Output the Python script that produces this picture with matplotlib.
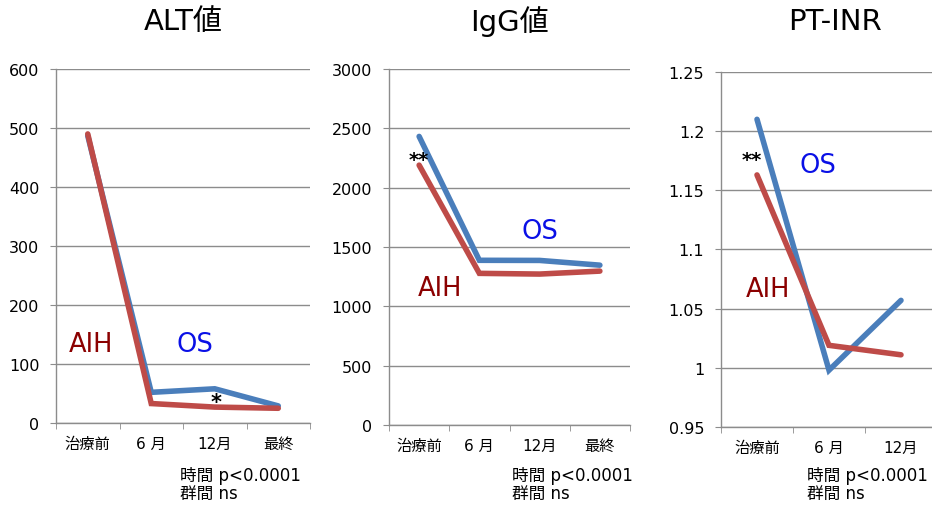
import matplotlib
matplotlib.use("Agg")
import matplotlib.pyplot as plt

plt.rcParams['font.family'] = ['DejaVu Sans', 'Noto Sans CJK JP']

# data
cats4 = ['治療前', '6 月', '12月', '最終']
cats3 = ['治療前', '6 月', '12月']

alt_aih = [490, 33, 27, 25]
alt_os = [487, 52, 58, 29]

igg_aih = [2190, 1278, 1272, 1297]
igg_os = [2432, 1388, 1387, 1347]

inr_aih = [1.163, 1.019, 1.011]
inr_os = [1.210, 0.998, 1.057]

blue = '#4a7ebb'
red = '#be4b48'
grid_c = '#8c8c8c'

fig = plt.figure(figsize=(9.32, 5.1), dpi=100)

def setup(ax, cats, ylim, yticks, ylabels, title, tx=0.5, ty=1.13):
    ax.set_xlim(-0.5, len(cats) - 0.5)
    ax.set_ylim(*ylim)
    ax.set_yticks(yticks)
    ax.set_yticklabels(ylabels, fontsize=11.5)
    ax.set_xticks(range(len(cats)))
    ax.set_xticklabels(cats, fontsize=11)
    ax.set_xticks([i - 0.5 for i in range(len(cats) + 1)], minor=True)
    ax.tick_params(axis='x', which='major', length=0, pad=9)
    ax.tick_params(axis='x', which='minor', length=4, color=grid_c, direction='out')
    ax.tick_params(axis='y', length=4, color=grid_c, direction='out', pad=8)
    ax.grid(axis='y', color=grid_c, linewidth=1)
    ax.set_axisbelow(True)
    for s in ['top', 'right']:
        ax.spines[s].set_visible(False)
    for s in ['left', 'bottom']:
        ax.spines[s].set_color(grid_c)
        ax.spines[s].set_linewidth(1)
    ax.text(tx, ty, title, transform=ax.transAxes, fontsize=21,
            ha='center', va='center')

def pvals(x):
    fig.text(x, 1 - 467/510, '時間 p<0.0001\n群間 ns', fontsize=12, va='top',
             ha='left', linespacing=1.0)

# ALT
ax1 = fig.add_axes([56/932, 0.1686, 254/932, 0.6941])
setup(ax1, cats4, (0, 600), range(0, 601, 100), [str(v) for v in range(0, 601, 100)],
      'ALT値', ty=1 + 48/354)
ax1.plot(range(4), alt_os, color=blue, lw=4, solid_capstyle='round', solid_joinstyle='miter')
ax1.plot(range(4), alt_aih, color=red, lw=4, solid_capstyle='round', solid_joinstyle='miter')
ax1.text(0.05, 134, 'AIH', color='#8b0000', fontsize=18.5, ha='center', va='center')
ax1.text(1.69, 134, 'OS', color='#0a10e6', fontsize=18.5, ha='center', va='center')
ax1.text(2.02, 36, '*', fontsize=15, ha='center', va='center', fontweight='bold')
pvals(180/932)

# IgG
ax2 = fig.add_axes([389/932, 0.1647, 241/932, 0.6980])
setup(ax2, cats4, (0, 3000), range(0, 3001, 500), [str(v) for v in range(0, 3001, 500)],
      'IgG値', ty=1 + 48/356)
ax2.plot(range(4), igg_os, color=blue, lw=4, solid_capstyle='round', solid_joinstyle='miter')
ax2.plot(range(4), igg_aih, color=red, lw=4, solid_capstyle='round', solid_joinstyle='miter')
ax2.text(0.35, 1154, 'AIH', color='#8b0000', fontsize=18.5, ha='center', va='center')
ax2.text(2.01, 1635, 'OS', color='#0a10e6', fontsize=18.5, ha='center', va='center')
ax2.text(-0.01, 2235, '**', fontsize=14, ha='center', va='center', fontweight='bold')
pvals(512/932)

# PT-INR
ax3 = fig.add_axes([721/932, 0.1608, 216/932, 0.6961])
inr_ticks = [0.95, 1.0, 1.05, 1.1, 1.15, 1.2, 1.25]
setup(ax3, cats3, (0.95, 1.25), inr_ticks, ['0.95', '1', '1.05', '1.1', '1.15', '1.2', '1.25'],
      'PT-INR', tx=0.5 + 6/216, ty=1 + 51/355)
ax3.plot(range(3), inr_os, color=blue, lw=4, solid_capstyle='round', solid_joinstyle='miter')
ax3.plot(range(3), inr_aih, color=red, lw=4, solid_capstyle='round', solid_joinstyle='miter')
ax3.text(0.15, 1.067, 'AIH', color='#8b0000', fontsize=18.5, ha='center', va='center')
ax3.text(0.85, 1.171, 'OS', color='#0a10e6', fontsize=18.5, ha='center', va='center')
ax3.text(-0.07, 1.176, '**', fontsize=14, ha='center', va='center', fontweight='bold')
pvals(807/932)

fig.savefig('out.png', dpi=100)
